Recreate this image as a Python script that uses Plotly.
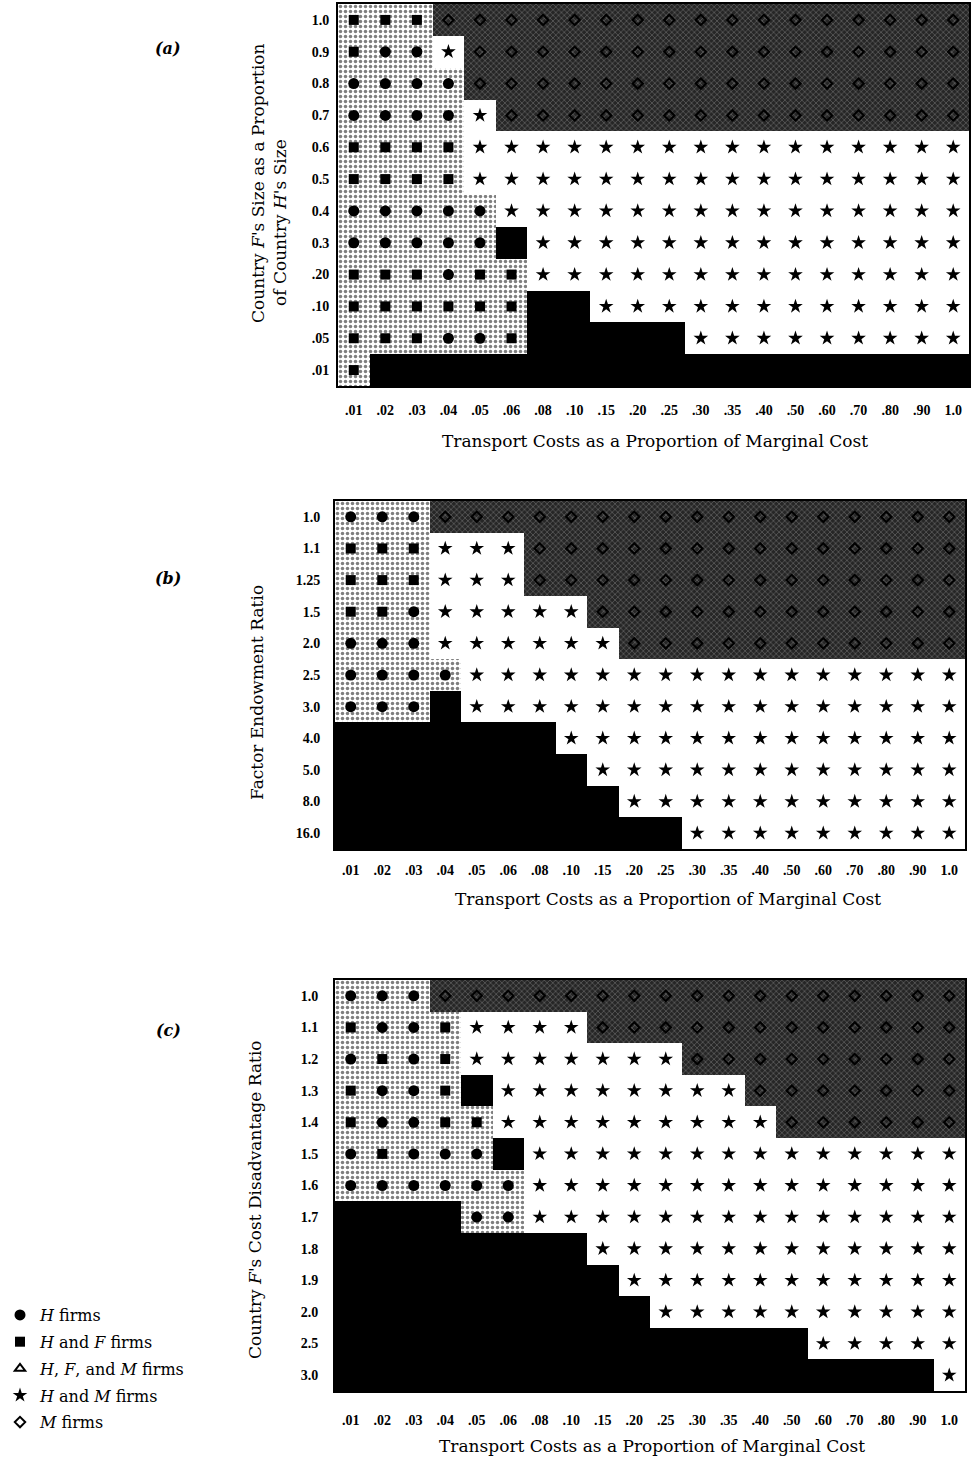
import plotly.graph_objects as go

# ---------------- data ----------------
transport_costs = [".01", ".02", ".03", ".04", ".05", ".06", ".08", ".10", ".15", ".20",
                   ".25", ".30", ".35", ".40", ".50", ".60", ".70", ".80", ".90", "1.0"]

size_ratio = ["1.0", "0.9", "0.8", "0.7", "0.6", "0.5", "0.4", "0.3", ".20", ".10", ".05", ".01"]
endowment_ratio = ["1.0", "1.1", "1.25", "1.5", "2.0", "2.5", "3.0", "4.0", "5.0", "8.0", "16.0"]
cost_ratio = ["1.0", "1.1", "1.2", "1.3", "1.4", "1.5", "1.6", "1.7", "1.8", "1.9", "2.0", "2.5", "3.0"]

# regime of each cell, as runs (regime, number of cells) along each row, from .01 to 1.0
regimes_a = [
    [("HF", 3), ("M", 17)],
    [("HF", 1), ("H", 2), ("HM", 1), ("M", 16)],
    [("H", 4), ("M", 16)],
    [("H", 4), ("HM", 1), ("M", 15)],
    [("HF", 4), ("HM", 16)],
    [("HF", 4), ("HM", 16)],
    [("H", 5), ("HM", 15)],
    [("H", 5), ("HFM", 1), ("HM", 14)],
    [("HF", 3), ("H", 1), ("HF", 2), ("HM", 14)],
    [("HF", 6), ("HFM", 2), ("HM", 12)],
    [("HF", 3), ("H", 2), ("HF", 1), ("HFM", 5), ("HM", 9)],
    [("HF", 1), ("HFM", 19)],
]
regimes_b = [
    [("H", 3), ("M", 17)],
    [("HF", 3), ("HM", 3), ("M", 14)],
    [("HF", 3), ("HM", 3), ("M", 14)],
    [("HF", 2), ("H", 1), ("HM", 5), ("M", 12)],
    [("H", 3), ("HM", 6), ("M", 11)],
    [("H", 4), ("HM", 16)],
    [("H", 3), ("HFM", 1), ("HM", 16)],
    [("HFM", 7), ("HM", 13)],
    [("HFM", 8), ("HM", 12)],
    [("HFM", 9), ("HM", 11)],
    [("HFM", 11), ("HM", 9)],
]
regimes_c = [
    [("H", 3), ("M", 17)],
    [("HF", 1), ("H", 2), ("HF", 1), ("HM", 4), ("M", 12)],
    [("H", 1), ("HF", 1), ("H", 1), ("HF", 1), ("HM", 7), ("M", 9)],
    [("HF", 1), ("H", 2), ("HF", 1), ("HFM", 1), ("HM", 8), ("M", 7)],
    [("HF", 1), ("H", 2), ("HF", 2), ("HM", 9), ("M", 6)],
    [("H", 1), ("HF", 1), ("H", 3), ("HFM", 1), ("HM", 14)],
    [("H", 6), ("HM", 14)],
    [("HFM", 4), ("H", 2), ("HM", 14)],
    [("HFM", 8), ("HM", 12)],
    [("HFM", 9), ("HM", 11)],
    [("HFM", 10), ("HM", 10)],
    [("HFM", 15), ("HM", 5)],
    [("HFM", 19), ("HM", 1)],
]

legend_names = {
    "H": "<i>H</i> firms",
    "HF": "<i>H</i> and <i>F</i> firms",
    "HFM": "<i>H</i>, <i>F</i>, and <i>M</i> firms",
    "HM": "<i>H</i> and <i>M</i> firms",
    "M": "<i>M</i> firms",
}
regime_order = ["H", "HF", "HFM", "HM", "M"]

# ---------------- styles ----------------
LIGHT = dict(color="white", pattern=dict(shape=".", bgcolor="white", fgcolor="black", size=5, solidity=0.38))
DARK = dict(color="#2a2a2a", pattern=dict(shape="x", bgcolor="#262626", fgcolor="#b4b4b4", size=4, solidity=0.28))
cell_style = {
    "H": LIGHT,
    "HF": LIGHT,
    "HFM": dict(color="black"),
    "HM": dict(color="white"),
    "M": DARK,
}
marker_style = {
    "H": dict(symbol="circle", size=11, color="black"),
    "HF": dict(symbol="square", size=10, color="black"),
    "HFM": dict(symbol="triangle-up-open", size=9, color="black", line=dict(width=2, color="black")),
    "HM": dict(symbol="star", size=11, color="black"),
    "M": dict(symbol="diamond-open", size=8, color="black", line=dict(width=2, color="black")),
}

SERIF = "DejaVu Serif"
TICKFONT = dict(family="Liberation Serif", size=14, color="black", weight="bold")

W, H = 972, 1462

panels = [
    dict(rows=size_ratio, regimes=regimes_a, box=(338, 969, 4, 386), xtl=10, ytl=4),
    dict(rows=endowment_ratio, regimes=regimes_b, box=(335, 965, 501, 849), xtl=7, ytl=10),
    dict(rows=cost_ratio, regimes=regimes_c, box=(335, 965, 980, 1391), xtl=15, ytl=12),
]

fig = go.Figure()
shown = set()
layout_axes = {}

for p_i, p in enumerate(panels):
    sfx = "" if p_i == 0 else str(p_i + 1)
    xa, ya = "x" + sfx, "y" + sfx
    rows = p["rows"]
    cells = {r: dict(x=[], y=[]) for r in regime_order}
    for r_i, runs in enumerate(p["regimes"]):
        c = 0
        for reg, n in runs:
            for _ in range(n):
                cells[reg]["x"].append(transport_costs[c])
                cells[reg]["y"].append(r_i)
                c += 1
    # background cells
    for reg in regime_order:
        xs, ys = cells[reg]["x"], cells[reg]["y"]
        if not xs:
            continue
        st = cell_style[reg]
        mk = dict(color=st["color"], line=dict(width=0))
        if "pattern" in st:
            mk["pattern"] = st["pattern"]
        fig.add_trace(go.Bar(x=xs, y=[1] * len(xs), base=ys, width=1, marker=mk,
                             xaxis=xa, yaxis=ya, showlegend=False, hoverinfo="skip"))
    # markers
    for reg in regime_order:
        xs, ys = cells[reg]["x"], cells[reg]["y"]
        if not xs:
            continue
        show = reg not in shown
        shown.add(reg)
        fig.add_trace(go.Scatter(x=xs, y=[v + 0.5 for v in ys], mode="markers",
                                 marker=marker_style[reg], name=legend_names[reg],
                                 legendgroup=reg, showlegend=show,
                                 xaxis=xa, yaxis=ya))
    x0, x1, y0, y1 = p["box"]
    layout_axes["xaxis" + sfx] = dict(
        domain=[x0 / W, x1 / W], anchor=ya, type="category",
        categoryorder="array", categoryarray=transport_costs,
        range=[-0.5, len(transport_costs) - 0.5],
        showgrid=False, zeroline=False, showline=True, mirror=True,
        linecolor="black", linewidth=2,
        ticks="outside", ticklen=p["xtl"], tickcolor="rgba(0,0,0,0)",
        tickfont=TICKFONT, tickangle=0, fixedrange=True, automargin=False)
    layout_axes["yaxis" + sfx] = dict(
        domain=[1 - y1 / H, 1 - y0 / H], anchor=xa,
        range=[len(rows), 0],
        tickvals=[i + 0.5 for i in range(len(rows))], ticktext=rows,
        showgrid=False, zeroline=False, showline=True, mirror=True,
        linecolor="black", linewidth=2,
        ticks="outside", ticklen=p["ytl"], tickcolor="rgba(0,0,0,0)",
        tickfont=TICKFONT, fixedrange=True, automargin=False)


def ann(text, px, py, size=17, angle=0, **kw):
    return dict(text=text, x=px / W, y=1 - py / H, xref="paper", yref="paper",
                showarrow=False, xanchor="center", yanchor="middle", textangle=angle,
                font=dict(family=SERIF, size=size, color="black"), **kw)


xtitle = "Transport Costs as a Proportion of Marginal Cost"
annotations = [
    ann(xtitle, 655, 441),
    ann(xtitle, 668, 899),
    ann(xtitle, 652, 1446),
    ann("Country <i>F</i>'s Size as a Proportion", 258, 183, angle=-90),
    ann("of Country <i>H</i>'s Size", 280, 223, angle=-90),
    ann("Factor Endowment Ratio", 257, 693, angle=-90),
    ann("Country <i>F</i>'s Cost Disadvantage Ratio", 255, 1200, angle=-90),
    ann("<b><i>(a)</i></b>", 168, 48, size=16),
    ann("<b><i>(b)</i></b>", 168, 578, size=16),
    ann("<b><i>(c)</i></b>", 168, 1030, size=16),
]

fig.update_layout(
    width=W, height=H,
    margin=dict(l=0, r=0, t=0, b=0, autoexpand=False),
    paper_bgcolor="white", plot_bgcolor="white",
    barmode="overlay", bargap=0,
    annotations=annotations,
    legend=dict(x=0.0, y=1 - 1298 / H, xanchor="left", yanchor="top",
                font=dict(family=SERIF, size=16, color="black"),
                bgcolor="rgba(0,0,0,0)", tracegroupgap=3, traceorder="grouped"),
    showlegend=True,
    **layout_axes,
)

fig.write_html("out.html", config={"displayModeBar": False},
               post_script="document.body.style.margin='0';document.body.style.overflow='hidden';")
